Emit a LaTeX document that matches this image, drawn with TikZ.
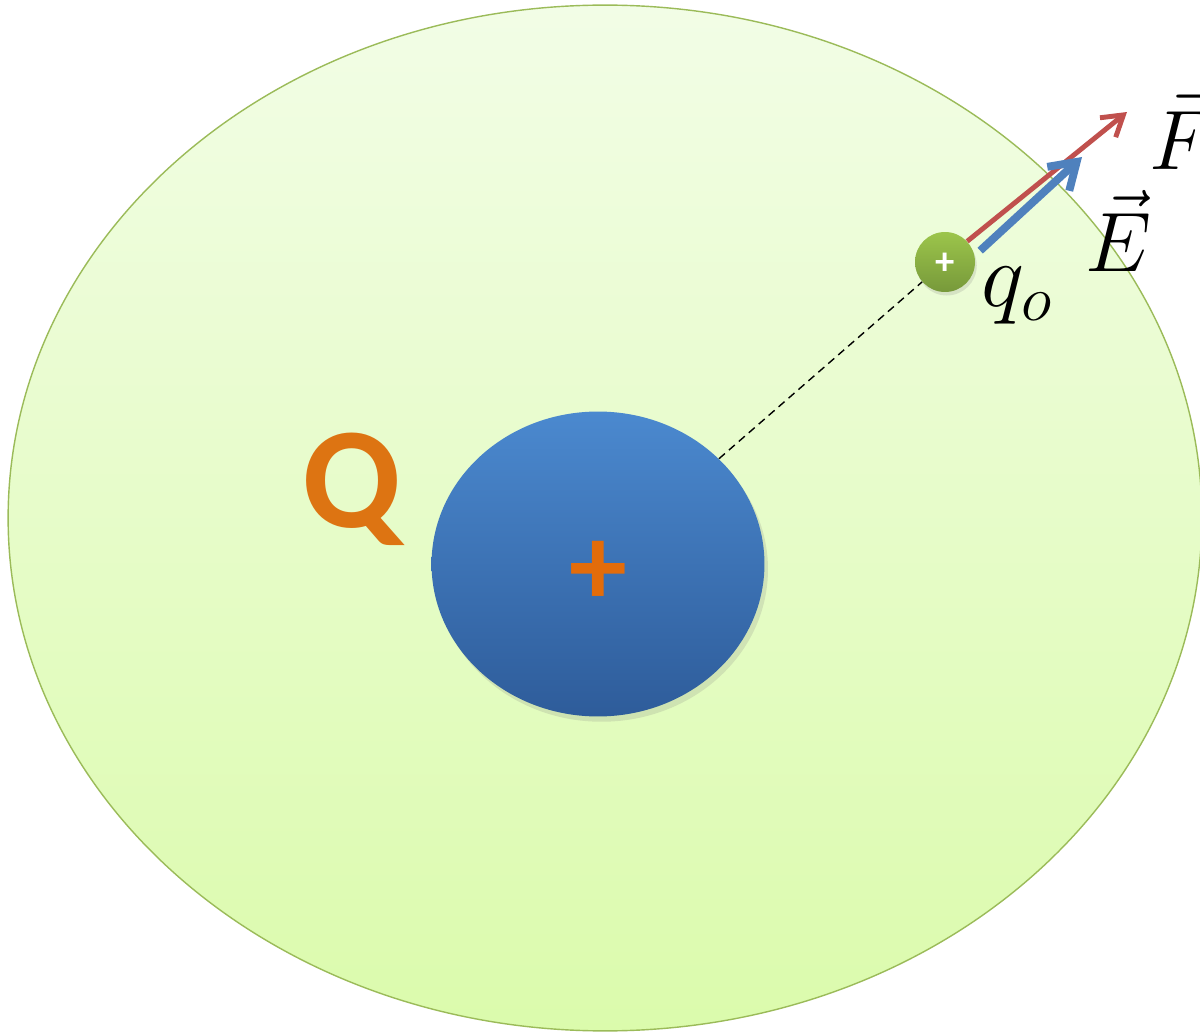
\RequirePackage{fix-cm}
\documentclass[tikz,border=0pt]{standalone}
\usepackage{fontspec}
\usepackage{amsmath}
\usepackage{tikz}
\usetikzlibrary{shapes.geometric,arrows.meta,shadows}
\newfontfamily\calibri{Carlito}
\definecolor{fieldtop}{HTML}{F2FDE6}
\definecolor{fieldbot}{HTML}{DBFBAC}
\definecolor{fieldline}{HTML}{9BBB59}
\definecolor{balltop}{HTML}{4B89CF}
\definecolor{ballbot}{HTML}{2E5C9A}
\definecolor{testtop}{HTML}{9CC54B}
\definecolor{testbot}{HTML}{77993A}
\definecolor{forcered}{HTML}{C0504D}
\definecolor{fieldblue}{HTML}{4F81BD}
\definecolor{qorange}{HTML}{DD7412}
\definecolor{plusorange}{HTML}{E36C0A}

\begin{document}
\begin{tikzpicture}[
  x=0.02cm, y=-0.02cm,
  field/.style={ellipse, draw=fieldline, line width=0.8pt, top color=fieldtop, bottom color=fieldbot,
                minimum width=23.88cm, minimum height=20.52cm, inner sep=0pt},
  ball/.style={ellipse, top color=balltop, bottom color=ballbot, minimum width=6.66cm, minimum height=6.1cm,
               inner sep=0pt, drop shadow={opacity=0.2, shadow xshift=2pt, shadow yshift=-3pt}},
  test/.style={circle, top color=testtop, bottom color=testbot, minimum size=1.2cm, inner sep=0pt,
               drop shadow={opacity=0.2, shadow xshift=1pt, shadow yshift=-2pt}},
  vlab/.style={font=\fontsize{48}{56}\selectfont, inner sep=0pt},
  farr/.style={-{Straight Barb[length=4mm, width=5mm]}, line width=2.8pt, forcered},
  earr/.style={-{Straight Barb[length=5mm, width=6.5mm]}, line width=4.5pt, fieldblue},
  dashline/.style={dashed, dash pattern=on 4.5pt off 3pt, line width=0.8pt},
]
\useasboundingbox (0,0) rectangle (1200,1033);
\node[field] (region) at (605,518) {};
\node[ball] (Qball) at (598,564) {};
\node[test] (qo) at (945,262) {};
\node[font=\calibri\bfseries\fontsize{66}{76}\selectfont, text=plusorange, inner sep=0pt] (Qplus) at (598,573) {+};
\node[font=\calibri\bfseries\fontsize{22}{26}\selectfont, text=white, inner sep=0pt] (qplus) at (945,264) {+};
\node[font=\calibri\bfseries\fontsize{82}{92}\selectfont, text=qorange, inner sep=0pt] (Qlab) at (352,489) {Q};
\coordinate (Ftip) at (1127,112);
\coordinate (Etip) at (1082,157);
\draw[dashline] (Qball) -- (qo);
\draw[farr] (qo.43) -- (Ftip);
\draw[earr] ([shift={(4pt,0pt)}]qo.22) -- (Etip);
\node[vlab] (F) at (1182,129) {$\vec{F}$};
\node[vlab] (E) at (1119,231) {$\vec{E}$};
\node[vlab, font=\fontsize{52}{60}\selectfont] (qlab) at (1017,296) {$q_o$};
\end{tikzpicture}
\end{document}
